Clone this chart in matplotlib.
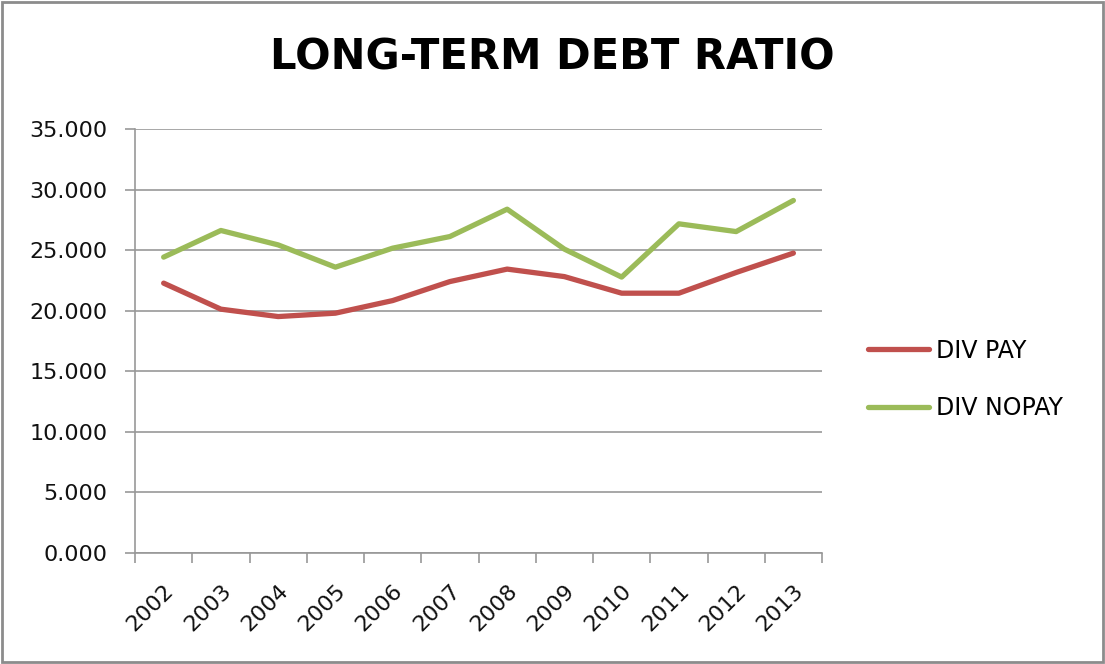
import matplotlib
matplotlib.use('Agg')
import matplotlib.pyplot as plt
import numpy as np
from matplotlib.patches import Rectangle

plt.rcParams['font.family'] = ['DejaVu Sans']

years = ['2002', '2003', '2004', '2005', '2006', '2007',
         '2008', '2009', '2010', '2011', '2012', '2013']
div_pay = [22.29, 20.14, 19.53, 19.81, 20.85, 22.42,
           23.45, 22.83, 21.46, 21.46, 23.17, 24.77]
div_nopay = [24.44, 26.64, 25.45, 23.61, 25.18, 26.14,
             28.40, 25.10, 22.79, 27.19, 26.55, 29.12]
y_ticks = [0, 5, 10, 15, 20, 25, 30, 35]

red = '#C0504D'
green = '#9BBB59'
grid_gray = '#989898'

fig = plt.figure(figsize=(11.05, 6.64), dpi=100)
ax = fig.add_axes([0.1222, 0.1672, 0.6217, 0.6381])

x = np.arange(len(years))
ax.plot(x, div_pay, color=red, lw=3.8, label='DIV PAY', solid_capstyle='round', solid_joinstyle='round')
ax.plot(x, div_nopay, color=green, lw=3.8, label='DIV NOPAY', solid_capstyle='round', solid_joinstyle='round')

ax.set_xlim(-0.5, len(years) - 0.5)
ax.set_ylim(0, 35)
ax.set_yticks(y_ticks)
ax.set_yticklabels([f'{v:.3f}' for v in y_ticks])
ax.yaxis.grid(True, color=grid_gray, lw=1.2)
ax.set_axisbelow(True)

# category labels at centres, tick marks at category boundaries
ax.set_xticks(x)
ax.set_xticklabels(years, rotation=45, ha='right', rotation_mode='anchor')
ax.set_xticks(np.arange(-0.5, len(years)), minor=True)
ax.tick_params(axis='x', which='major', length=0, pad=20, labelsize=16, labelcolor='#111111')
ax.tick_params(axis='x', which='minor', length=7, color=grid_gray, width=1.2)
ax.tick_params(axis='y', length=7, color=grid_gray, width=1.2, labelsize=16, pad=13,
               labelcolor='#111111')

for side in ['top', 'right']:
    ax.spines[side].set_visible(False)
for side in ['left', 'bottom']:
    ax.spines[side].set_color(grid_gray)
    ax.spines[side].set_linewidth(1.2)

fig.text(0.5, 0.8956, 'LONG-TERM DEBT RATIO', ha='center', va='baseline',
         fontsize=30, fontweight='bold')

ax.legend(loc='center left', bbox_to_anchor=(1.036, 0.41), frameon=False,
          fontsize=17, handlelength=2.6, handletextpad=0.3, labelspacing=1.4)

fig.patches.append(Rectangle((0.002, 0.003), 0.996, 0.994, transform=fig.transFigure,
                             fill=False, edgecolor='#8C8C8C', lw=2))

fig.savefig('out.png', dpi=100)
